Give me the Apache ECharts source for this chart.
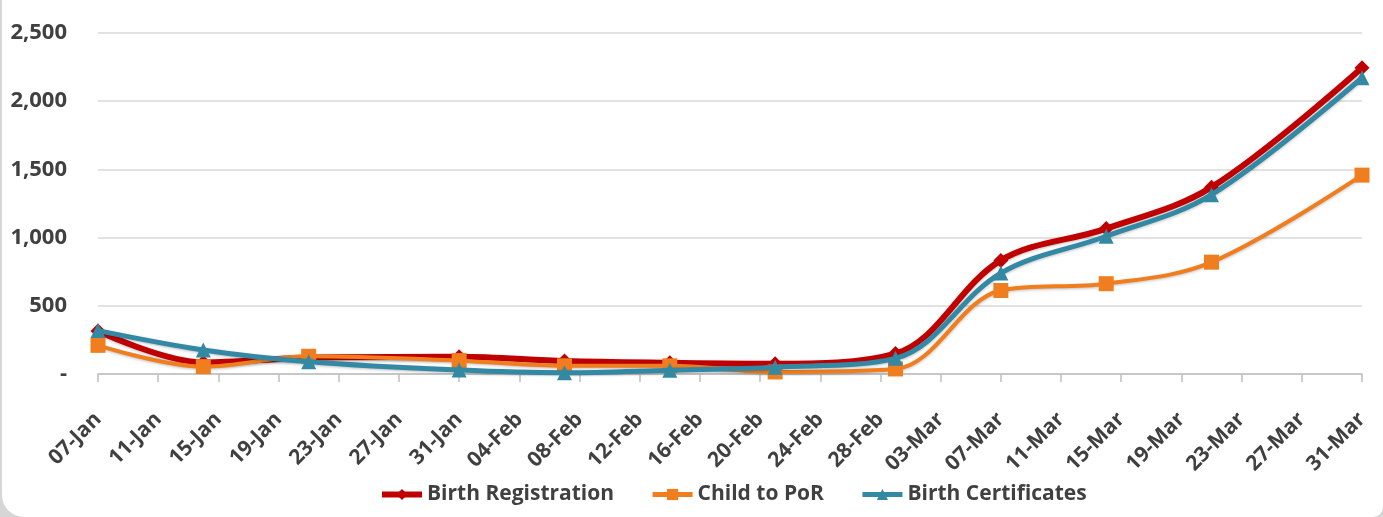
<!DOCTYPE html>
<html>
<head>
<meta charset="utf-8">
<script src="https://cdn.jsdelivr.net/npm/echarts@6/dist/echarts.min.js"></script>
<style>
html,body{margin:0;padding:0;width:1383px;height:517px;background:#d6d6d6;overflow:hidden;}
#frame{position:absolute;left:2px;top:0;width:1381px;height:517px;background:#fff;border-bottom-left-radius:22px;border-bottom-right-radius:10px;}
#chart{position:absolute;left:-2px;top:0;width:1383px;height:517px;}
</style>
</head>
<body>
<div id="frame"><div id="chart"></div></div>
<script>
// Data
const dates = ['2020-01-07','2020-01-14','2020-01-21','2020-01-31','2020-02-07','2020-02-14','2020-02-21','2020-02-29','2020-03-07','2020-03-14','2020-03-21','2020-03-31'];
const birthRegistration = [315, 85, 120, 127, 95, 82, 75, 150, 833, 1066, 1370, 2245];
const childToPoR        = [210, 54, 130, 98, 60, 60, 15, 37, 612, 662, 820, 1458];
const birthCertificates = [318, 176, 90, 29, 10, 28, 50, 115, 740, 1010, 1315, 2172];
const startDate = '2020-01-07';
const endDate = '2020-03-31';
const tickStepDays = 4;
const monthNames = ['Jan','Feb','Mar','Apr','May','Jun','Jul','Aug','Sep','Oct','Nov','Dec'];
const seriesNames = ['Birth Registration','Child to PoR','Birth Certificates'];
const colors = ['#C00000','#F07D1E','#3389A3'];

const DAY = 86400000;
const t0 = Date.parse(startDate + 'T00:00:00Z');
const dayOf = d => Math.round((Date.parse(d + 'T00:00:00Z') - t0) / DAY);
const maxDay = dayOf(endDate);
function labelFor(v){
  const d = new Date(t0 + v * DAY);
  const dd = String(d.getUTCDate()).padStart(2,'0');
  return dd + '-' + monthNames[d.getUTCMonth()];
}
const pts = arr => dates.map((d,i)=>[dayOf(d), arr[i]]);

const chart = echarts.init(document.getElementById('chart'));
const font = '"Open Sans", "Liberation Sans", sans-serif';
function mk(name, data, color, symbol, size, width, z){
  return {
    name, type:'line', data, smooth:0.35, symbol, symbolSize:size,
    lineStyle:{color, width, shadowColor:'rgba(0,0,0,0.25)', shadowBlur:3, shadowOffsetY:1},
    itemStyle:{color}, z
  };
}
chart.setOption({
  animation:false,
  textStyle:{fontFamily:font},
  grid:{left:98, right:21, top:33, bottom:143, containLabel:false},
  legend:{
    left:374, top:479, itemWidth:40, itemHeight:14, itemGap:36,
    textStyle:{fontSize:21, color:'#404040', fontWeight:'bold', fontFamily:font},
    data:seriesNames.map((n,i)=>({name:n, lineStyle:{width:[6,5,5][i]}}))
  },
  xAxis:{
    type:'value', min:0, max:maxDay, interval:tickStepDays,
    axisLine:{show:true, lineStyle:{color:'#bfbfbf', width:1.5}},
    axisTick:{show:true, length:8, lineStyle:{color:'#bfbfbf', width:1.5}},
    splitLine:{show:false},
    axisLabel:{rotate:45, fontSize:21, fontWeight:'bold', color:'#404040', margin:42, formatter:v=>labelFor(v), fontFamily:font}
  },
  yAxis:{
    type:'value', min:0, max:2500, interval:500,
    axisLine:{show:false}, axisTick:{show:false},
    splitLine:{lineStyle:{color:'#d9d9d9', width:1.5}},
    axisLabel:{fontSize:22, fontWeight:'bold', color:'#404040', margin:31, fontFamily:font,
      formatter:v=> v===0 ? '-' : v.toLocaleString('en-US')}
  },
  series:[
    mk(seriesNames[0], pts(birthRegistration), colors[0], 'diamond', 15, 6, 2),
    mk(seriesNames[1], pts(childToPoR), colors[1], 'rect', 15, 4, 3),
    mk(seriesNames[2], pts(birthCertificates), colors[2], 'triangle', 15, 5, 4)
  ]
});
</script>
</body>
</html>
